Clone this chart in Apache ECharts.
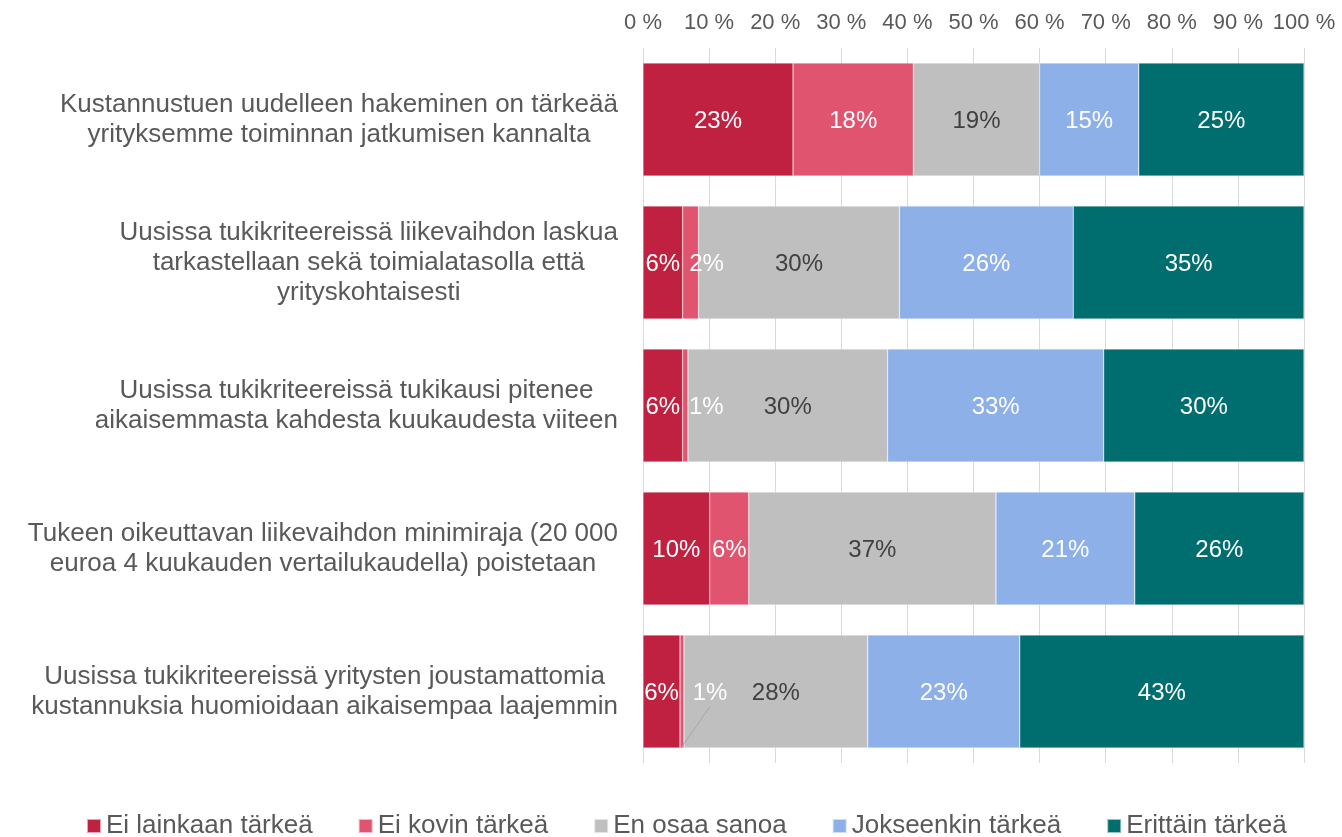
<!DOCTYPE html>
<html>
<head>
<meta charset="utf-8">
<script src="https://cdn.jsdelivr.net/npm/echarts@6/dist/echarts.min.js"></script>
<style>
  html, body { margin: 0; padding: 0; background: #fff; }
  #chart { width: 1342px; height: 837px; }
</style>
</head>
<body>
<div id="chart"></div>
<script>
// kysymykset (ylhäältä alas)
const categories = [
  'Kustannustuen uudelleen hakeminen on tärkeää\nyrityksemme toiminnan jatkumisen kannalta',
  'Uusissa tukikriteereissä liikevaihdon laskua\ntarkastellaan sekä toimialatasolla että\nyrityskohtaisesti',
  'Uusissa tukikriteereissä tukikausi pitenee\naikaisemmasta kahdesta kuukaudesta viiteen',
  'Tukeen oikeuttavan liikevaihdon minimiraja (20 000\neuroa 4 kuukauden vertailukaudella) poistetaan',
  'Uusissa tukikriteereissä yritysten joustamattomia\nkustannuksia huomioidaan aikaisempaa laajemmin'
];
const seriesNames = ['Ei lainkaan tärkeä', 'Ei kovin tärkeä', 'En osaa sanoa', 'Jokseenkin tärkeä', 'Erittäin tärkeä'];

// osuudet prosentteina
const eiLainkaan = [22.7, 6.0, 6.0, 10.1, 5.6];
const eiKovin = [18.2, 2.4, 0.8, 5.9, 0.6];
const enOsaa = [19.1, 30.4, 30.2, 37.4, 27.8];
const jokseenkin = [15.0, 26.3, 32.7, 21.0, 23.0];
const erittain = [25.0, 34.9, 30.3, 25.6, 43.0];

const xTicks = [0, 10, 20, 30, 40, 50, 60, 70, 80, 90, 100];

const colors = ['#C02141', '#E05470', '#BFBFBF', '#8DB0E8', '#006D6F'];
const labelColors = ['#ffffff', '#ffffff', '#404040', '#ffffff', '#ffffff'];
const font = 'Liberation Sans, Arial, sans-serif';
const barW = 113;

const chart = echarts.init(document.getElementById('chart'));

// pienten palojen tunnisteet siirretään oikealle
const pinkShift = { 1: 16, 2: 21, 4: 28 };

function makeSeries(name, data, i) {
  const s = {
    name: name,
    type: 'bar',
    stack: 'total',
    barWidth: barW,
    data: data,
    itemStyle: { color: colors[i], borderColor: 'rgba(255,255,255,0.6)', borderWidth: 0.5 },
    label: {
      show: true,
      position: 'inside',
      offset: [0, 2],
      color: labelColors[i],
      fontSize: 24,
      fontFamily: font,
      formatter: p => Math.round(p.value) + '%'
    },
    emphasis: { disabled: true }
  };
  if (i === 1) {
    s.labelLayout = function (p) {
      return { dx: pinkShift[p.dataIndex] || 0, dy: 2 };
    };
  }
  return s;
}

const option = {
  animation: false,
  color: colors,
  textStyle: { fontFamily: font },
  grid: { left: 643, right: 38, top: 48, bottom: 74 },
  legend: {
    data: seriesNames,
    left: 86,
    top: 813,
    padding: 0,
    icon: 'rect',
    itemWidth: 14,
    itemHeight: 14,
    itemGap: 45,
    textStyle: { fontSize: 26, color: '#595959', fontFamily: font }
  },
  xAxis: {
    type: 'value',
    position: 'top',
    min: xTicks[0],
    max: xTicks[xTicks.length - 1],
    interval: 10,
    axisLine: { show: false },
    axisTick: { show: false },
    axisLabel: { fontSize: 22, color: '#595959', margin: 14, formatter: '{value} %', fontFamily: font },
    splitLine: { show: true, lineStyle: { color: '#D9D9D9', width: 1 } }
  },
  yAxis: {
    type: 'category',
    inverse: true,
    data: categories,
    axisLine: { show: false },
    axisTick: { show: false },
    axisLabel: {
      margin: 25,
      formatter: v => v.split('\n').map(s => '{c|' + s + '}').join('\n'),
      rich: {
        c: { align: 'center', fontSize: 26, lineHeight: 30, color: '#595959', fontFamily: font }
      }
    }
  },
  series: [
    makeSeries(seriesNames[0], eiLainkaan, 0),
    makeSeries(seriesNames[1], eiKovin, 1),
    makeSeries(seriesNames[2], enOsaa, 2),
    makeSeries(seriesNames[3], jokseenkin, 3),
    makeSeries(seriesNames[4], erittain, 4)
  ]
};

chart.setOption(option);

// viimeisen rivin 1 %:n tunnisteen ohjausviiva
const k = 4;
const x0 = chart.convertToPixel({ xAxisIndex: 0 }, eiLainkaan[k] + eiKovin[k] / 2);
const yc = chart.convertToPixel({ yAxisIndex: 0 }, categories[k]);
chart.setOption({
  graphic: [{
    type: 'line',
    silent: true,
    shape: { x1: x0 - 1, y1: yc + barW / 2, x2: x0 + pinkShift[k], y2: yc + 15 },
    style: { stroke: '#A6A6A6', lineWidth: 1 },
    z: 10
  }]
});
</script>
</body>
</html>
